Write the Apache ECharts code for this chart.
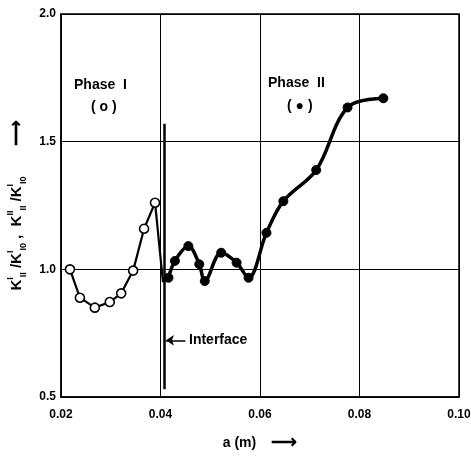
<!DOCTYPE html>
<html>
<head>
<meta charset="utf-8">
<script src="https://cdn.jsdelivr.net/npm/echarts@6/dist/echarts.min.js"></script>
<style>html,body{margin:0;padding:0;background:#fff}#c{width:471px;height:457px}</style>
</head>
<body>
<div id="c"></div>
<script>
// Phase I (open circles)
const phase1X = [0.0218, 0.0238, 0.0268, 0.0298, 0.0321, 0.0345, 0.0367, 0.0389, 0.0405];
const phase1Y = [1.00, 0.889, 0.85, 0.872, 0.906, 0.995, 1.159, 1.261, 0.95];
const phase1Marked = [true, true, true, true, true, true, true, true, false];
// Phase II (filled circles)
const phase2X = [0.0416, 0.0429, 0.0456, 0.0478, 0.0489, 0.0522, 0.0553, 0.0577, 0.0613, 0.0647, 0.0713, 0.0776, 0.0848];
const phase2Y = [0.967, 1.033, 1.091, 1.02, 0.954, 1.065, 1.026, 0.967, 1.143, 1.267, 1.389, 1.634, 1.67];
// interface line
const interfaceX = 0.0408;
const interfaceY = [0.53, 1.57];
const arrowY = 0.722;
const arrowX = [0.0450, 0.0411];
// axes
const xTicks = [0.02, 0.04, 0.06, 0.08, 0.10];
const yTicks = [0.5, 1.0, 1.5, 2.0];

const FONT = 'Liberation Sans';
const chart = echarts.init(document.getElementById('c'));

const s1 = phase1X.map((x, i) => phase1Marked[i] ? [x, phase1Y[i]] : { value: [x, phase1Y[i]], symbol: 'none' });
const s2 = phase2X.map((x, i) => [x, phase2Y[i]]);

chart.setOption({
  animation: false,
  grid: { left: 61, right: 12, top: 14, bottom: 60, show: true, borderColor: '#000', borderWidth: 1.5,
          containLabel: false, outerBoundsMode: 'none' },
  xAxis: {
    type: 'value', min: 0.02, max: 0.10, interval: 0.02,
    axisLine: { show: true, lineStyle: { color: '#000', width: 1.5 } },
    axisTick: { show: false },
    splitLine: { show: true, lineStyle: { color: '#000', width: 1 } },
    axisLabel: { color: '#000', fontFamily: FONT, fontWeight: 'bold', fontSize: 12, margin: 12,
      formatter: v => v.toFixed(2) },
    name: '{t|a (m)}{a|   \u27F6}', nameLocation: 'middle', nameGap: 37,
    nameTextStyle: { color: '#000', fontFamily: FONT, fontWeight: 'bold', fontSize: 14,
      rich: {
        t: { fontSize: 14, fontWeight: 'bold', fontFamily: FONT, color: '#000' },
        a: { fontSize: 18, fontWeight: 'bold', fontFamily: FONT, color: '#000' }
      } }
  },
  yAxis: {
    type: 'value', min: 0.5, max: 2.0, interval: 0.5,
    axisLine: { show: true, lineStyle: { color: '#000', width: 1.5 } },
    axisTick: { show: false },
    splitLine: { show: true, lineStyle: { color: '#000', width: 1 } },
    axisLabel: { color: '#000', fontFamily: FONT, fontWeight: 'bold', fontSize: 12, margin: 5,
      formatter: v => v.toFixed(1) },
    name: '{k|K}{sup|I}{sub|II}{k| /K}{sup|I}{sub|I0}{k| ,  K}{sup|II}{sub|II}{k| /K}{sup|I}{sub|I0}{a|      \u27F6}',
    nameLocation: 'middle', nameGap: 33, nameRotate: 90,
    nameTextStyle: {
      color: '#000', fontFamily: FONT, fontWeight: 'bold',
      rich: {
        k: { fontSize: 15, fontWeight: 'bold', fontFamily: FONT, color: '#000', lineHeight: 22 },
        a: { fontSize: 18, fontWeight: 'bold', fontFamily: FONT, color: '#000', lineHeight: 22 },
        sup: { fontSize: 9, fontWeight: 'bold', fontFamily: FONT, color: '#000', lineHeight: 11, verticalAlign: 'top' },
        sub: { fontSize: 9, fontWeight: 'bold', fontFamily: FONT, color: '#000', lineHeight: 11, verticalAlign: 'bottom' }
      }
    }
  },
  series: [
    {
      type: 'line', data: s1, smooth: false,
      symbol: 'circle', symbolSize: 9,
      lineStyle: { color: '#000', width: 2.2 },
      itemStyle: { color: '#fff', borderColor: '#000', borderWidth: 1.6 },
      z: 3,
      markLine: {
        silent: true, symbol: 'none', animation: false,
        lineStyle: { color: '#000', width: 2.5, type: 'solid' },
        label: { show: false },
        data: [
          [{ coord: [interfaceX, interfaceY[0]] }, { coord: [interfaceX, interfaceY[1]] }]
        ]
      }
    },
    {
      type: 'line', data: s2, smooth: 0.35,
      symbol: 'circle', symbolSize: 9,
      lineStyle: { color: '#000', width: 3.5 },
      itemStyle: { color: '#000', borderColor: '#000' },
      z: 4,
      markLine: {
        silent: true, symbol: ['none', 'arrow'], symbolSize: 8, animation: false,
        lineStyle: { color: '#000', width: 1.5, type: 'solid' },
        label: { show: false },
        data: [
          [{ coord: [arrowX[0], arrowY] }, { coord: [arrowX[1], arrowY] }]
        ]
      }
    }
  ],
  graphic: [
    { type: 'text', left: 74, top: 78, style: { text: 'Phase  I', fontFamily: FONT, fontWeight: 'bold', fontSize: 14, fill: '#000' } },
    { type: 'text', left: 91, top: 100, style: { text: '( o )', fontFamily: FONT, fontWeight: 'bold', fontSize: 14, fill: '#000' } },
    { type: 'text', left: 268, top: 76, style: { text: 'Phase  II', fontFamily: FONT, fontWeight: 'bold', fontSize: 14, fill: '#000' } },
    { type: 'text', left: 287, top: 99, style: { text: '( \u25CF )', fontFamily: FONT, fontWeight: 'bold', fontSize: 14, fill: '#000' } },
    { type: 'text', left: 189, top: 333, style: { text: 'Interface', fontFamily: FONT, fontWeight: 'bold', fontSize: 14, fill: '#000' } }
  ]
});
</script>
</body>
</html>
